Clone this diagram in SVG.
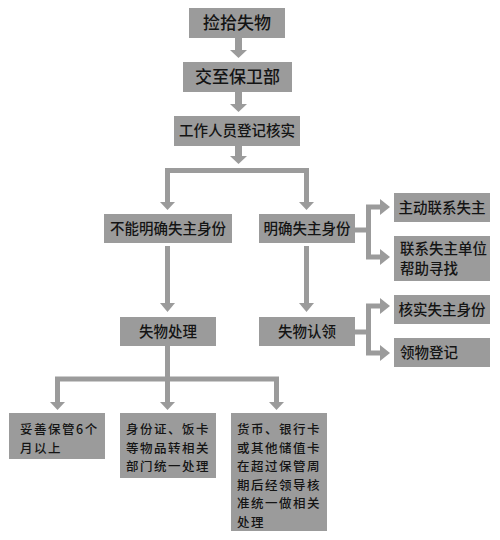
<svg xmlns="http://www.w3.org/2000/svg" width="500" height="540" viewBox="0 0 500 540">
<style>
.box{fill:#9b9b9b}
.t{font-family:"Noto Sans CJK SC","Noto Sans",sans-serif;fill:#141414;font-weight:500}
.big{font-size:17px}
.mid{font-size:14.5px}
.sm{font-size:12.5px;letter-spacing:1.5px}
.c{text-anchor:middle}
.ln{stroke:#9b9b9b;stroke-width:5;fill:none}
.sh{stroke:#9b9b9b;stroke-width:7;fill:none}
.ah{fill:#9b9b9b}
</style>
<rect width="500" height="540" fill="#fff"/>
<g id="connectors">
  <path class="sh" d="M238.5 38V51"/>
  <polygon class="ah" points="230,50 247,50 238.5,58"/>
  <path class="sh" d="M238.5 92V105"/>
  <polygon class="ah" points="230,104 247,104 238.5,112"/>
  <path class="sh" d="M238.5 146V157"/>
  <polygon class="ah" points="230,156 247,156 238.5,164"/>
  <path class="ln" d="M167.5 203V170.5H306.5V203"/>
  <polygon class="ah" points="160,202 175,202 167.5,210"/>
  <polygon class="ah" points="299,202 314,202 306.5,210"/>
  <path class="ln" d="M167.5 246V304"/>
  <polygon class="ah" points="160,303 175,303 167.5,312"/>
  <path class="ln" d="M306.5 246V304"/>
  <polygon class="ah" points="299,303 314,303 306.5,312"/>
  <path class="ln" d="M355 230H368.5"/>
  <path class="ln" d="M381 207H368.5V257H381"/>
  <polygon class="ah" points="380,199 380,215 390,207"/>
  <polygon class="ah" points="380,249 380,265 390,257"/>
  <path class="ln" d="M355 332H368.5"/>
  <path class="ln" d="M381 306H368.5V353H381"/>
  <polygon class="ah" points="380,298 380,314 390,306"/>
  <polygon class="ah" points="380,345 380,361 390,353"/>
  <path class="ln" d="M167.5 346V403"/>
  <path class="ln" d="M57.5 403V379H276.5V403"/>
  <polygon class="ah" points="50,402 65,402 57.5,410"/>
  <polygon class="ah" points="160,402 175,402 167.5,410"/>
  <polygon class="ah" points="269,402 284,402 276.5,410"/>
</g>
<g id="n1"><rect class="box" x="189" y="8" width="96" height="30"/><text class="t big c" x="237" y="29">捡拾失物</text></g>
<g id="n2"><rect class="box" x="183" y="62" width="109" height="30"/><text class="t big c" x="237.5" y="83">交至保卫部</text></g>
<g id="n3"><rect class="box" x="174" y="116" width="126" height="30"/><text class="t mid c" x="237" y="136">工作人员登记核实</text></g>
<g id="n4"><rect class="box" x="104" y="214" width="128" height="29"/><text class="t mid c" x="168" y="234">不能明确失主身份</text></g>
<g id="n5"><rect class="box" x="259" y="214" width="96" height="29"/><text class="t mid c" x="307" y="234">明确失主身份</text></g>
<g id="n6"><rect class="box" x="120" y="317" width="96" height="29"/><text class="t mid c" x="168" y="337">失物处理</text></g>
<g id="n7"><rect class="box" x="259" y="317" width="96" height="29"/><text class="t mid c" x="307" y="337">失物认领</text></g>
<g id="n8"><rect class="box" x="394" y="193" width="96" height="29"/><text class="t mid c" x="442" y="213">主动联系失主</text></g>
<g id="n9"><rect class="box" x="394" y="236" width="96" height="45"/><text class="t mid" x="400" y="254">联系失主单位</text><text class="t mid" x="400" y="274">帮助寻找</text></g>
<g id="n10"><rect class="box" x="394" y="295" width="96" height="29"/><text class="t mid c" x="442" y="315">核实失主身份</text></g>
<g id="n11"><rect class="box" x="394" y="338" width="96" height="29"/><text class="t mid" x="400" y="358">领物登记</text></g>
<g id="n12"><rect class="box" x="9" y="413" width="96" height="46"/><text class="t sm" x="20" y="434">妥善保管6个</text><text class="t sm" x="20" y="452.5">月以上</text></g>
<g id="n13"><rect class="box" x="120" y="413" width="96" height="65"/><text class="t sm" x="126" y="434">身份证、饭卡</text><text class="t sm" x="126" y="452.5">等物品转相关</text><text class="t sm" x="126" y="471">部门统一处理</text></g>
<g id="n14"><rect class="box" x="231" y="413" width="96" height="118"/><text class="t sm" x="237" y="434">货币、银行卡</text><text class="t sm" x="237" y="452.5">或其他储值卡</text><text class="t sm" x="237" y="471">在超过保管周</text><text class="t sm" x="237" y="489.5">期后经领导核</text><text class="t sm" x="237" y="508">准统一做相关</text><text class="t sm" x="237" y="526.5">处理</text></g>
</svg>
